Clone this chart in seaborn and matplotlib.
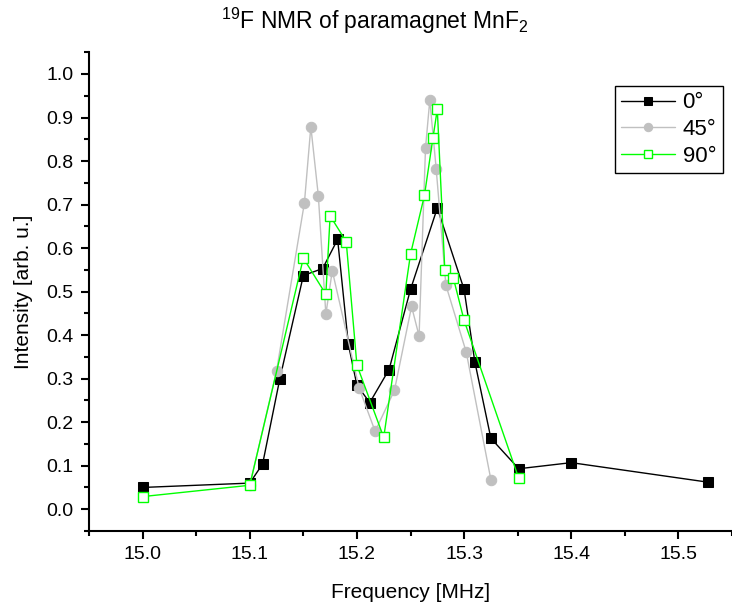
import numpy as np
import pandas as pd
import seaborn as sns
import matplotlib
matplotlib.use("Agg")
import matplotlib.pyplot as plt
from matplotlib.ticker import MultipleLocator

# 0 deg
freq_0 = [15.0, 15.1, 15.112, 15.128, 15.15, 15.168, 15.182, 15.192, 15.2, 15.212,
          15.23, 15.25, 15.275, 15.3, 15.31, 15.325, 15.351, 15.4, 15.528]
int_0 = [0.05, 0.06, 0.104, 0.299, 0.537, 0.553, 0.62, 0.379, 0.285, 0.245,
         0.321, 0.505, 0.692, 0.505, 0.339, 0.163, 0.093, 0.107, 0.062]

# 45 deg
freq_45 = [15.1, 15.125, 15.151, 15.157, 15.164, 15.171, 15.177, 15.202, 15.217, 15.235,
           15.251, 15.258, 15.264, 15.268, 15.274, 15.283, 15.302, 15.325]
int_45 = [0.055, 0.318, 0.704, 0.879, 0.72, 0.448, 0.548, 0.279, 0.179, 0.273,
          0.466, 0.398, 0.83, 0.94, 0.781, 0.515, 0.361, 0.068]

# 90 deg
freq_90 = [15.0, 15.1, 15.15, 15.171, 15.175, 15.19, 15.2, 15.225, 15.25, 15.263,
           15.271, 15.275, 15.282, 15.29, 15.3, 15.351]
int_90 = [0.029, 0.055, 0.577, 0.494, 0.674, 0.615, 0.331, 0.165, 0.586, 0.721,
          0.854, 0.919, 0.55, 0.531, 0.434, 0.071]

sns.set_theme(style="ticks")
plt.rcParams['font.family'] = ['Liberation Sans', 'DejaVu Sans']
plt.rcParams['mathtext.fontset'] = 'custom'
plt.rcParams['mathtext.rm'] = 'Liberation Sans'
plt.rcParams['mathtext.it'] = 'Liberation Sans'
plt.rcParams['text.color'] = 'black'
plt.rcParams['axes.labelcolor'] = 'black'

fig = plt.figure(figsize=(7.32, 6.06), dpi=100)
ax = fig.add_axes([0.1216, 0.1238, 0.8784, 0.79])

sns.lineplot(x=freq_0, y=int_0, ax=ax, sort=False, estimator=None, color='black',
             lw=1, marker='s', markersize=6.5, markerfacecolor='black',
             markeredgecolor='black', label='0°')
sns.lineplot(x=freq_45, y=int_45, ax=ax, sort=False, estimator=None, color='#c0c0c0',
             lw=1, marker='o', markersize=7.5, markerfacecolor='#c0c0c0',
             markeredgecolor='#c0c0c0', label='45°')
sns.lineplot(x=freq_90, y=int_90, ax=ax, sort=False, estimator=None, color='#00ff00',
             lw=1, marker='s', markersize=6.5, markerfacecolor='white',
             markeredgecolor='#00ff00', markeredgewidth=1, label='90°')

ax.set_xlim(14.95, 15.55)
ax.set_ylim(-0.05, 1.05)
ax.xaxis.set_major_locator(MultipleLocator(0.1))
ax.xaxis.set_minor_locator(MultipleLocator(0.05))
ax.yaxis.set_major_locator(MultipleLocator(0.1))
ax.yaxis.set_minor_locator(MultipleLocator(0.05))
ax.xaxis.set_major_formatter(matplotlib.ticker.FormatStrFormatter('%.1f'))
ax.yaxis.set_major_formatter(matplotlib.ticker.FormatStrFormatter('%.1f'))

sns.despine(ax=ax)
for s in ['left', 'bottom']:
    ax.spines[s].set_linewidth(1.5)
    ax.spines[s].set_color('black')
ax.tick_params(which='major', direction='out', length=6, width=1.5, labelsize=14,
               colors='black', labelcolor='black', pad=5)
ax.tick_params(which='minor', direction='out', length=3.5, width=1.5, colors='black')

ax.set_xlabel('Frequency [MHz]', fontsize=15, labelpad=14, color='black')
ax.set_ylabel('Intensity [arb. u.]', fontsize=15, labelpad=10, color='black')

fig.text(0.512, 0.952, r'$^{19}$F NMR of paramagnet MnF$_2$', ha='center', va='baseline',
         fontsize=16.5, color='black')

leg = ax.legend(loc='upper right', bbox_to_anchor=(0.986, 0.93), fontsize=16,
                frameon=True, fancybox=False, edgecolor='black', framealpha=1,
                handlelength=2.4, borderpad=0.3, labelspacing=0.25, handletextpad=0.35,
                borderaxespad=0, markerscale=0.8)
leg.get_frame().set_linewidth(1)
for t in leg.get_texts():
    t.set_color('black')

fig.savefig('out.png', dpi=100)
